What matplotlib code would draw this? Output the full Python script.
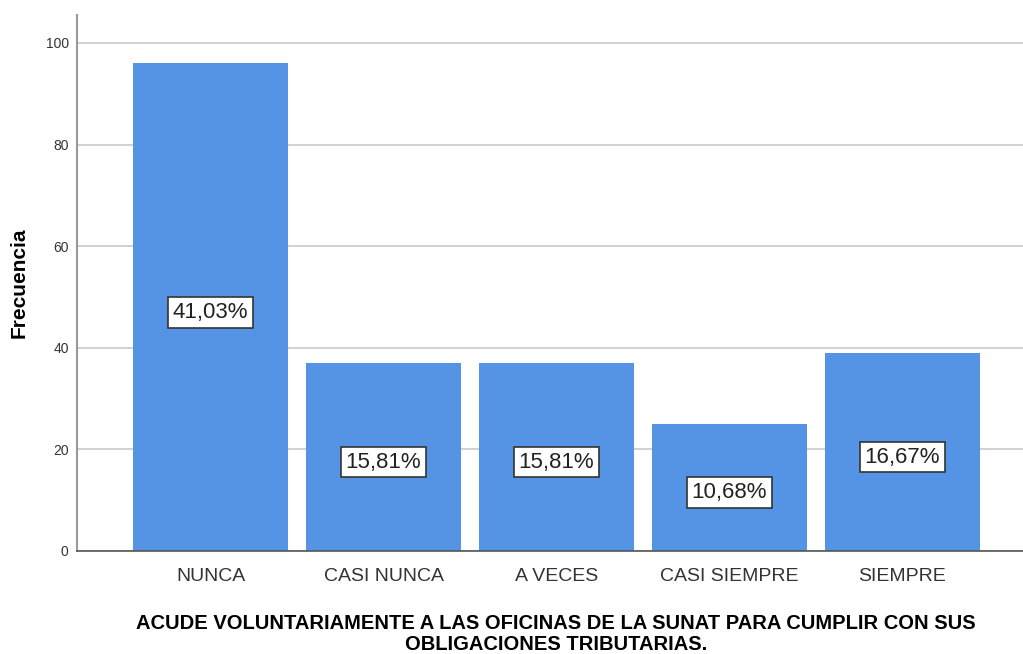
import matplotlib.pyplot as plt
import numpy as np

categorias = ['NUNCA', 'CASI NUNCA', 'A VECES', 'CASI SIEMPRE', 'SIEMPRE']
frecuencia = [96, 37, 37, 25, 39]
porcentajes = ['41,03%', '15,81%', '15,81%', '10,68%', '16,67%']

plt.rcParams['font.family'] = ['Liberation Sans', 'DejaVu Sans']

fig = plt.figure(figsize=(10.23, 6.54), dpi=100)
ax = fig.add_axes([77 / 1023, 1 - 551 / 654, 946 / 1023, 536 / 654])

x = np.arange(len(categorias))
ax.bar(x, frecuencia, width=0.896, color='#5594E4', zorder=2)

# etiquetas de porcentaje
for xi, v, p in zip(x, frecuencia, porcentajes):
    ax.text(xi, v / 2 - 1, p, ha='center', va='center', fontsize=16,
            color='#222222', zorder=3,
            bbox=dict(boxstyle='square,pad=0.22', fc='white', ec='#333333', lw=1.2))

ax.set_xlim(-0.772, 4.697)
ax.set_ylim(0, 105.5)
ax.set_yticks([0, 20, 40, 60, 80, 100])
ax.set_xticks(x)
ax.set_xticklabels(categorias, fontsize=14, color='#333333')
ax.tick_params(axis='y', length=0, labelsize=10, pad=6, labelcolor='#333333')
ax.tick_params(axis='x', length=0, pad=12)

ax.grid(True, axis='y', color='#c8c8c8', lw=1.2, zorder=0)
for s in ['top', 'right']:
    ax.spines[s].set_visible(False)
ax.spines['left'].set_color('#999999')
ax.spines['left'].set_linewidth(1.5)
ax.spines['bottom'].set_color('#555555')
ax.spines['bottom'].set_linewidth(1.2)

ax.set_ylabel('Frecuencia', fontsize=15, fontweight='bold', labelpad=12)
fig.text(556 / 1023, 1 - 634 / 654,
         'ACUDE VOLUNTARIAMENTE A LAS OFICINAS DE LA SUNAT PARA CUMPLIR CON SUS\nOBLIGACIONES TRIBUTARIAS.',
         ha='center', va='center', fontsize=14.5, fontweight='bold', linespacing=1.1)

fig.savefig('out.png', dpi=100)
